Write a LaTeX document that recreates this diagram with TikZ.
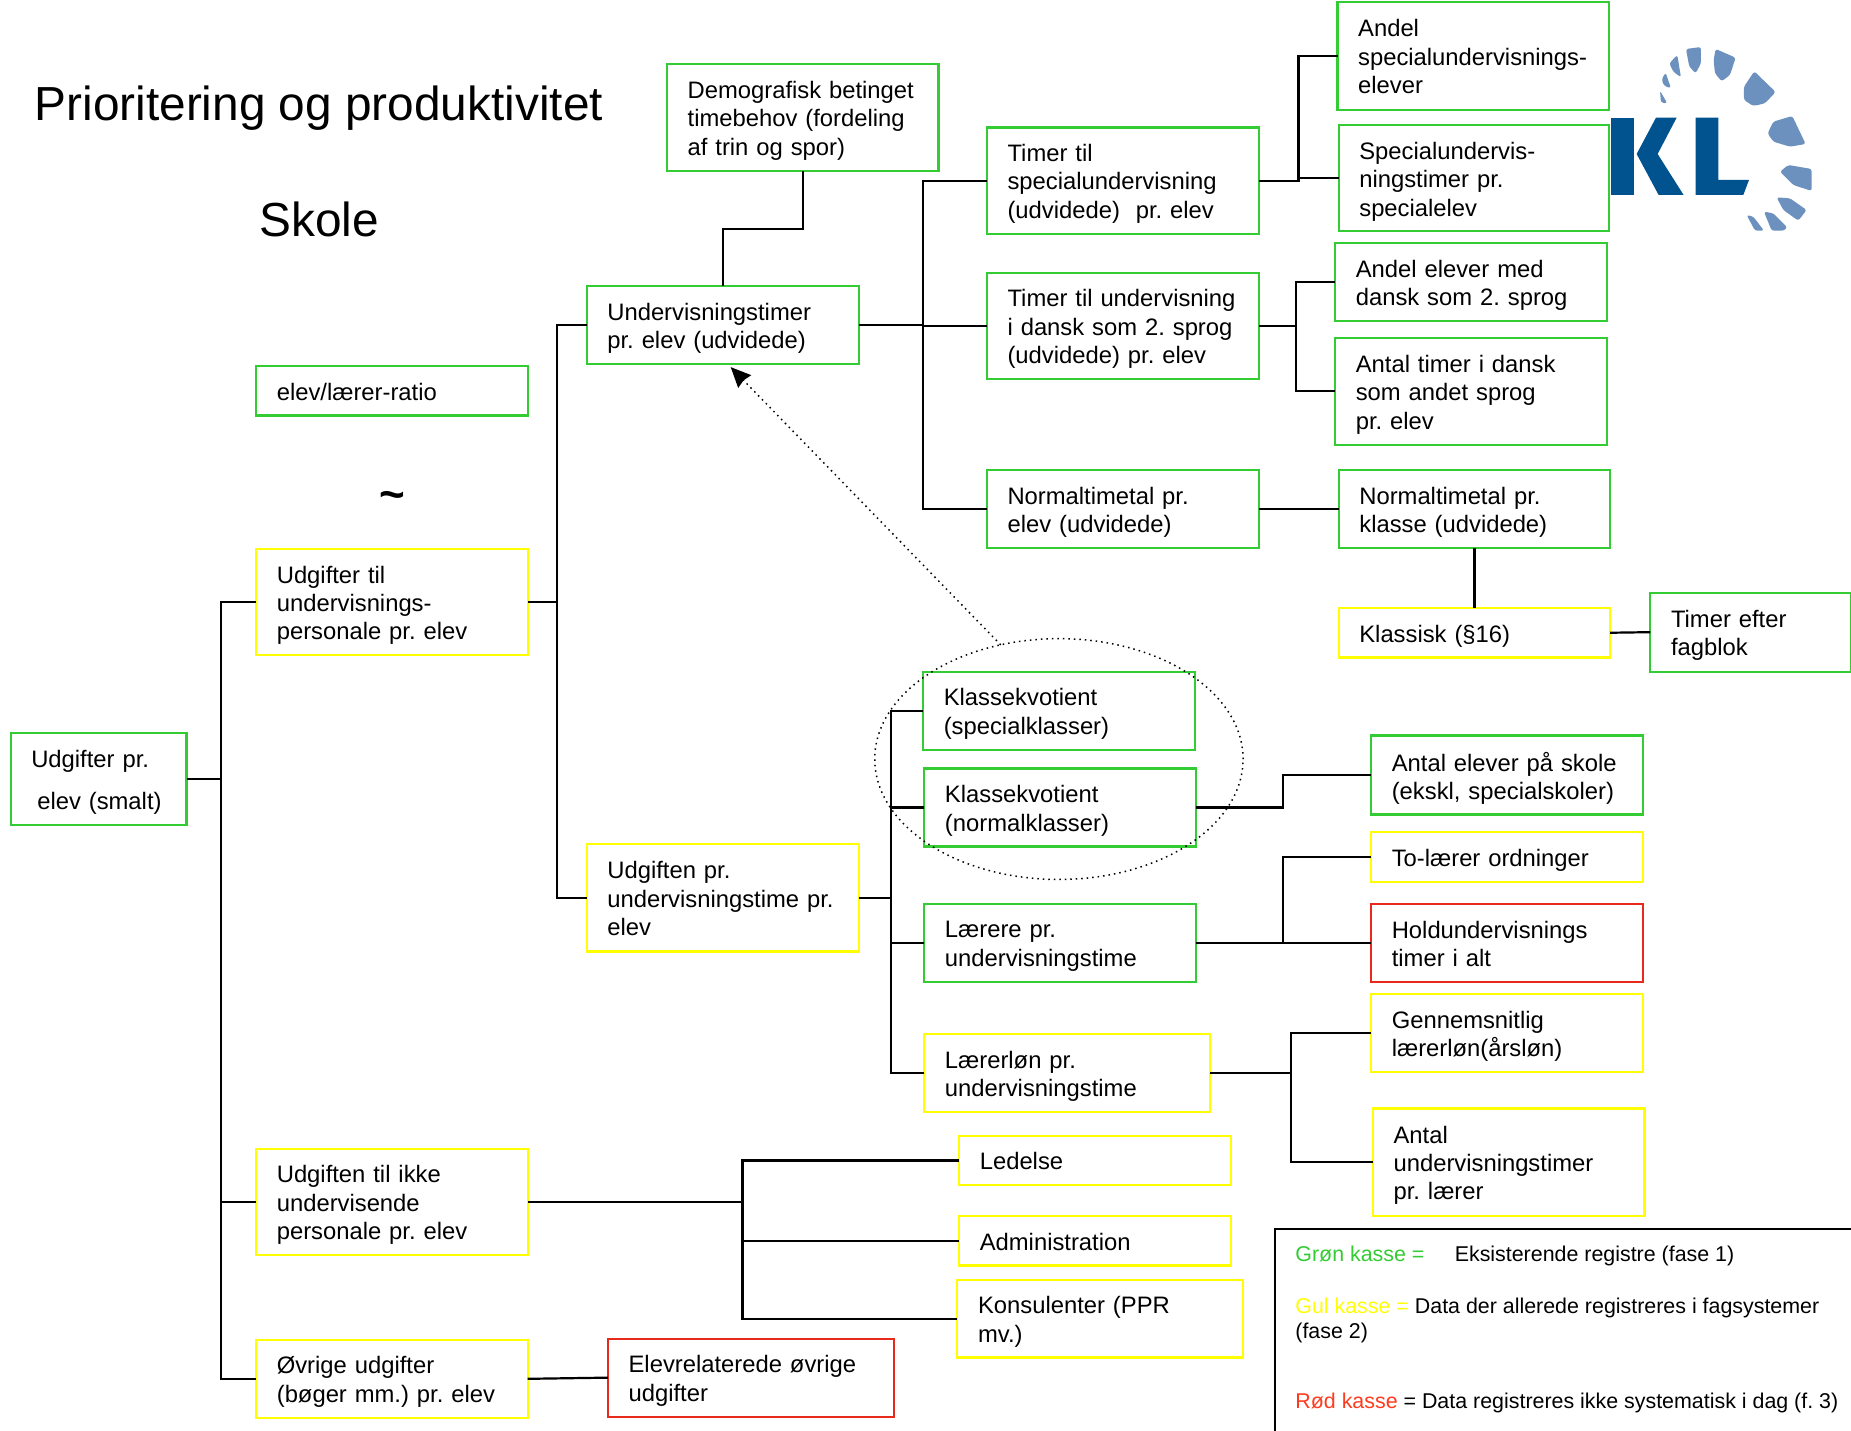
\documentclass[tikz,border=0pt]{standalone}
\usepackage{fontspec}
\setmainfont{Liberation Sans}
\usetikzlibrary{shapes.geometric,arrows.meta}
\definecolor{kgreen}{HTML}{33CC33}
\definecolor{kyellow}{HTML}{FFFF00}
\definecolor{kred}{HTML}{E8291C}
\definecolor{kredtext}{HTML}{FF3B1E}
\definecolor{kldark}{HTML}{00538F}
\definecolor{kllight}{HTML}{6C91BF}
\tikzset{
  kasse/.style={rectangle,line width=1.1pt,inner ysep=0pt,inner xsep=0pt,outer sep=0pt,align=left,
    font=\fontsize{11.9}{14.2}\selectfont\frenchspacing},
  wire/.style={line width=1.1pt,black},
  legendtext/.style={anchor=base west,inner sep=0pt,font=\fontsize{10.7}{12.8}\selectfont\frenchspacing},
  titletext/.style={inner sep=0pt,font=\fontsize{23.9}{28}\selectfont},
  dark/.style={fill=kldark,draw=none},
  petal/.style={fill=kllight,draw=none,rounded corners=1.2pt}
}
% name, colour, x1, y1, x2, y2, text
\newcommand{\kasseat}[7]{%
  \pgfmathsetlengthmacro{\kw}{(#5-#3)*0.5903pt}%
  \pgfmathsetlengthmacro{\kh}{(#6-#4)*0.5903pt}%
  \pgfmathsetlengthmacro{\ktw}{(#5-#3-17.5)*0.5903pt}%
  \pgfmathsetlengthmacro{\kpad}{17.5*0.5903pt}%
  \node[kasse,draw=#2,minimum width=\kw,minimum height=\kh,text width=\kw,
    inner xsep=0pt,anchor=north west] (#1) at (#3,#4)
    {\hspace*{\kpad}\begin{minipage}{\ktw}\vspace*{3.2pt}\raggedright #7\end{minipage}};}
\newcommand{\liftup}{\par\vspace*{2.4pt}}
\begin{document}
\begin{tikzpicture}[x=0.5903pt,y=-0.5903pt]
\useasboundingbox (0,0) rectangle (1568,1211.4);
\clip (0,0) rectangle (1568,1211.4);
\fill[white] (0,0) rectangle (1568,1211.4);

\node[titletext,anchor=base west] (title) at (29,102) {Prioritering og produktivitet};
\node[titletext,anchor=base west] (skole) at (219.5,200) {Skole};
\node[inner sep=0pt,font=\fontsize{22}{26}\selectfont] (tilde) at (332,424) {\textbf{\char`\~}};

\kasseat{root}{kgreen}{9}{621}{158}{699}{\hspace*{0pt}Udgifter pr.\\[7.2pt]\hspace*{3pt}elev (smalt)}
\kasseat{udgift}{kyellow}{217}{465}{447}{555}{Udgifter til\\undervisnings-\\personale pr. elev}
\kasseat{ratio}{kgreen}{217}{310}{447}{352}{elev/lærer-ratio\liftup}
\kasseat{ikke}{kyellow}{217}{973}{447}{1063}{Udgiften til ikke\\undervisende\\personale pr. elev}
\kasseat{ovrige}{kyellow}{217}{1135}{447}{1201}{Øvrige udgifter\\(bøger mm.) pr. elev}
\kasseat{elevrel}{kred}{515}{1134}{757}{1200}{Elevrelaterede øvrige\\udgifter}
\kasseat{demog}{kgreen}{565}{54}{795}{145}{Demografisk betinget\\timebehov (fordeling\\af trin og spor)}
\kasseat{underv}{kgreen}{497}{242}{727.5}{308.5}{Undervisningstimer\\pr. elev (udvidede)}
\kasseat{udgtime}{kyellow}{497}{715}{727.5}{806}{Udgiften pr.\\undervisningstime pr.\\elev\liftup}
\kasseat{timera}{kgreen}{836}{108}{1066.5}{198}{Timer til\\specialundervisning\\(udvidede)~ pr. elev}
\kasseat{timerb}{kgreen}{836}{231}{1066.5}{321}{Timer til undervisning\\i dansk som 2. sprog\\(udvidede) pr. elev}
\kasseat{norma}{kgreen}{836}{398}{1066.5}{464.5}{Normaltimetal pr.\\elev (udvidede)}
\kasseat{andela}{kgreen}{1133}{2}{1363}{93}{Andel\\specialundervisnings-\\elever\liftup}
\kasseat{spec}{kgreen}{1134}{106}{1363}{196}{Specialundervis-\\ningstimer pr.\\specialelev}
\kasseat{andelb}{kgreen}{1131}{206}{1361}{272}{Andel elever med\\dansk som 2. sprog}
\kasseat{antaldsk}{kgreen}{1131}{286}{1361}{377}{Antal timer i dansk\\som andet sprog\\pr. elev}
\kasseat{normb}{kgreen}{1134}{398}{1364}{464.5}{Normaltimetal pr.\\klasse (udvidede)}
\kasseat{klassisk}{kyellow}{1134}{515}{1364}{557}{Klassisk (§16)}
\kasseat{fagblok}{kgreen}{1398}{502}{1568}{569}{Timer efter\\fagblok}
\kasseat{kka}{kgreen}{782}{569}{1012}{635}{Klassekvotient\\(specialklasser)}
\kasseat{kkb}{kgreen}{783}{651}{1013}{717}{Klassekvotient\\(normalklasser)}
\kasseat{laerere}{kgreen}{783}{766}{1013}{832}{Lærere pr.\\undervisningstime}
\kasseat{laerlon}{kyellow}{783}{876}{1025}{942}{Lærerløn pr.\\undervisningstime}
\kasseat{antalel}{kgreen}{1161.5}{623}{1392}{690}{Antal elever på skole\\(ekskl, specialskoler)}
\kasseat{tolaer}{kyellow}{1161.5}{705}{1392}{747}{To-lærer ordninger}
\kasseat{hold}{kred}{1161.5}{766}{1392}{832}{Holdundervisnings\\timer i alt\liftup}
\kasseat{genn}{kyellow}{1161.5}{842}{1392}{908}{Gennemsnitlig\\lærerløn(årsløn)}
\kasseat{antalund}{kyellow}{1163}{939}{1393}{1030}{Antal\\undervisningstimer\\pr. lærer}
\kasseat{ledelse}{kyellow}{812.5}{962}{1043}{1004}{Ledelse\liftup}
\kasseat{admin}{kyellow}{812.5}{1030}{1043}{1072}{Administration\liftup}
\kasseat{kons}{kyellow}{811}{1084}{1053}{1150}{Konsulenter (PPR\\mv.)}

% bus positions
\coordinate (busroot) at (187,0);
\coordinate (busudg) at (472,0);
\coordinate (busund) at (782,0);
\coordinate (bustima) at (1100,0);
\coordinate (bustimb) at (1098,0);
\coordinate (bustime) at (755,0);
\coordinate (buskk) at (1087,0);
\coordinate (buslon) at (1093.5,0);
\coordinate (busikke) at (629,0);
\coordinate (demogjog) at (0,194);

\draw[wire] (root.east) -- (root.east -| busroot) |- (udgift.west);
\draw[wire] (root.east -| busroot) |- (ikke.west);
\draw[wire] (root.east -| busroot) |- (ovrige.west);
\draw[wire] (udgift.east) -- (udgift.east -| busudg) |- (underv.west);
\draw[wire] (udgift.east -| busudg) |- (udgtime.west);
\draw[wire] (underv.east) -- (underv.east -| busund) |- (timera.west);
\draw[wire] (underv.east -| busund) |- (timerb.west);
\draw[wire] (underv.east -| busund) |- (norma.west);
\draw[wire] (demog.south) -- (demog.south |- demogjog) -| (underv.north);
\draw[wire] (timera.east) -- (timera.east -| bustima) |- (andela.west);
\draw[wire] (timera.east -| bustima) |- (spec.west);
\draw[wire] (timerb.east) -- (timerb.east -| bustimb) |- (andelb.west);
\draw[wire] (timerb.east -| bustimb) |- (antaldsk.west);
\draw[wire] (norma.east) -- (normb.west);
\draw[wire] (normb.south) -- (normb.south |- klassisk.north);
\draw[wire] (klassisk.east) -- (fagblok.west);
\draw[wire] (udgtime.east) -- (udgtime.east -| bustime) |- (kka.west);
\draw[wire] (udgtime.east -| bustime) |- (kkb.west);
\draw[wire] (udgtime.east -| bustime) |- (laerere.west);
\draw[wire] (udgtime.east -| bustime) |- (laerlon.west);
\draw[wire] (kkb.east) -- (kkb.east -| buskk) |- (antalel.west);
\draw[wire] (laerere.east) -- (hold.west);
\draw[wire] (laerere.east -| buskk) |- (tolaer.west);
\draw[wire] (laerlon.east) -- (laerlon.east -| buslon) |- (genn.west);
\draw[wire] (laerlon.east -| buslon) |- (antalund.west);
\draw[wire] (ikke.east) -- (ikke.east -| busikke) |- (ledelse.west);
\draw[wire] (ikke.east -| busikke) |- (admin.west);
\draw[wire] (ikke.east -| busikke) |- (kons.west);
\draw[wire] (ovrige.east) -- (elevrel.west);

% dotted ellipse and arrow
\pgfmathsetlengthmacro{\ew}{312*0.5903pt}
\pgfmathsetlengthmacro{\eh}{204*0.5903pt}
\node[ellipse,draw=black,dotted,line width=0.75pt,inner sep=0pt,outer sep=0pt,minimum width=\ew,minimum height=\eh] (oval) at (897,643) {};
\coordinate (arrowtip) at (619,311);
\draw[dotted,line width=0.75pt,-{Stealth[length=10pt,width=9pt,inset=0.8pt]}] (oval.117) -- (arrowtip);

% legend
\coordinate (legbl) at (1080,1215);
\coordinate (legtl) at (1080,1041);
\coordinate (legtr) at (1572,1041);
\draw[line width=1.1pt,black] (legbl) -- (legtl) -- (legtr);
\node[legendtext] (leggron) at (1097,1068.5) {\textcolor{kgreen}{Grøn kasse =}};
\node[legendtext] (leggront) at (1232,1068.5) {Eksisterende registre (fase 1)};
\node[legendtext] (leggul) at (1097,1112.5) {\textcolor{kyellow}{Gul kasse =} Data der allerede registreres i fagsystemer};
\node[legendtext] (leggulb) at (1097,1133.5) {(fase 2)};
\node[legendtext] (legrod) at (1097,1193) {\textcolor{kredtext}{Rød kasse} = Data registreres ikke systematisk i dag (f. 3)};

% logo
\begin{scope}[shift={(1338.4,16.94)},x=0.16667pt,y=-0.16667pt]
\fill[dark] (93,293) -- (161,293) -- (161,525) -- (93,525) -- cycle;
\fill[dark] (228,293) -- (290,293) -- (233,402) -- (311,525) -- (236,525) -- (170,402) -- cycle;
\fill[dark] (347,293) -- (415,293) -- (415,480) -- (507,480) -- (490,525) -- (347,525) -- cycle;
\fill[petal] (240,212) -- (262,250) -- (243,248) -- cycle;
\fill[petal] (257,158) -- (273,205) -- (252,197) -- (245,178) -- cycle;
\fill[petal] (292,105) -- (303,172) -- (280,155) -- (268,130) -- cycle;
\fill[petal] (318,87) -- (363,81) -- (363,130) -- (347,160) -- (328,140) -- cycle;
\fill[petal] (407,87) -- (467,113) -- (450,165) -- (425,184) -- (405,160) -- (401,120) -- cycle;
\fill[petal] (523,154) -- (587,216) -- (555,250) -- (520,258) -- (492,240) -- (492,200) -- cycle;
\fill[petal] (637,288) -- (677,372) -- (630,380) -- (580,365) -- (563,340) -- (580,305) -- cycle;
\fill[petal] (600,455) -- (625,435) -- (695,447) -- (695,513) -- (640,495) -- cycle;
\fill[petal] (590,532) -- (630,535) -- (680,570) -- (655,602) -- (610,570) -- cycle;
\fill[petal] (552,575) -- (580,580) -- (622,622) -- (612,632) -- (575,632) -- cycle;
\fill[petal] (500,585) -- (520,590) -- (552,632) -- (525,632) -- cycle;
\end{scope}
\end{tikzpicture}
\end{document}
